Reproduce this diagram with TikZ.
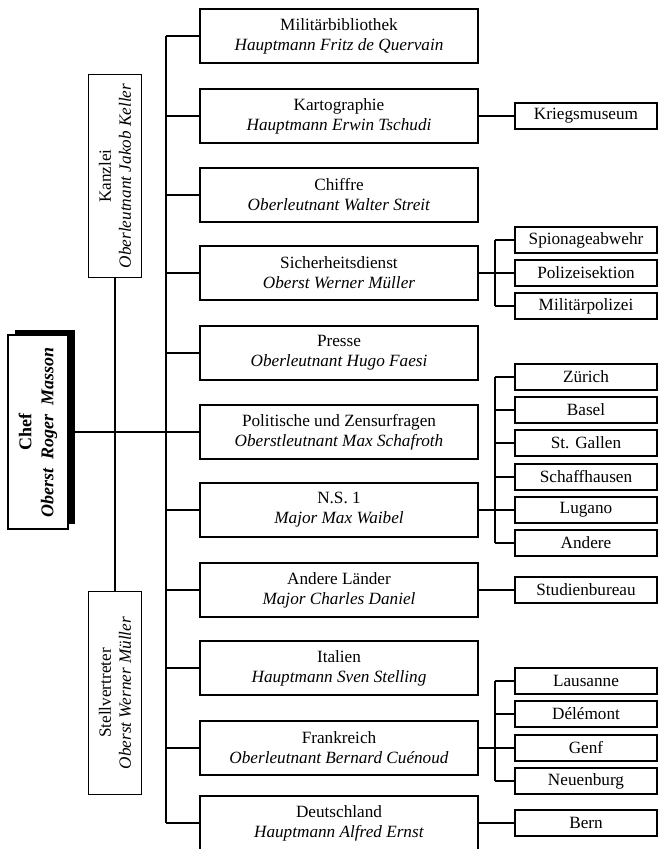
\documentclass[tikz,border=0pt]{standalone}
\usepackage{fontspec}
\setmainfont{Liberation Serif}
\tikzset{
  link/.style={line width=0.75pt},
  dept/.style={draw, line width=0.75pt, fill=white, minimum width=139pt, minimum height=27pt,
    inner sep=0pt, align=center, font=\fontsize{8.6}{10}\selectfont},
  office/.style={draw, line width=0.75pt, fill=white, minimum width=71pt, minimum height=13pt,
    inner sep=0pt, font=\fontsize{8.6}{10}\selectfont},
  staff/.style={draw, line width=0.75pt, fill=white, rotate=90, minimum width=101.5pt,
    minimum height=26.5pt, inner sep=0pt, align=center, font=\fontsize{8.6}{10}\selectfont},
}
\begin{document}
\begin{tikzpicture}[x=0.5pt, y=-0.5pt]
			%%%%% START %%%%%
			\useasboundingbox (0,0) rectangle (662,849);
			
			% chef and staff
			\fill[black] (15,330) rectangle (75,524);
			\node[draw, line width=0.75pt, fill=white, rotate=90, minimum width=97pt, minimum height=30pt,
			  inner sep=0pt, align=center, font=\bfseries\fontsize{9}{11}\selectfont] (chef) at (38,432)
			  {Chef\\\textit{Oberst\ \ Roger\ \ Masson}};
			\node[staff] (kanzlei) at (115,176) {Kanzlei\\\textit{Oberleutnant Jakob Keller}};
			\node[staff] (stell) at (115,693) {Stellvertreter\\\textit{Oberst Werner Müller}};
			
			% departments
			\node[dept] (mil) at (339,36) {Militärbibliothek\\\textit{Hauptmann Fritz de Quervain}};
			\node[dept] (karto) at (339,116) {Kartographie\\\textit{Hauptmann Erwin Tschudi}};
			\node[dept] (chiffre) at (339,195) {Chiffre\\\textit{Oberleutnant Walter Streit}};
			\node[dept] (sich) at (339,273) {Sicherheitsdienst\\\textit{Oberst Werner Müller}};
			\node[dept] (presse) at (339,353) {Presse\\\textit{Oberleutnant Hugo Faesi}};
			\node[dept] (pol) at (339,432) {Politische und Zensurfragen\\\textit{Oberstleutnant Max Schafroth}};
			\node[dept] (ns) at (339,510) {N.S. 1\\\textit{Major Max Waibel}};
			\node[dept] (andere) at (339,590) {Andere Länder\\\textit{Major Charles Daniel}};
			\node[dept] (ital) at (339,668) {Italien\\\textit{Hauptmann Sven Stelling}};
			\node[dept] (frank) at (339,748) {Frankreich\\\textit{Oberleutnant Bernard Cuénoud}};
			\node[dept] (deutsch) at (339,823) {Deutschland\\\textit{Hauptmann Alfred Ernst}};
			
			% offices
			\node[office] (kriegsmus) at (586,116) {Kriegsmuseum};
			\node[office] (spion) at (586,240) {Spionageabwehr};
			\node[office] (polsek) at (586,273) {Polizeisektion};
			\node[office] (milpol) at (586,306) {Militärpolizei};
			\node[office] (zuerich) at (586,377) {Zürich};
			\node[office] (basel) at (586,410) {Basel};
			\node[office] (stgallen) at (586,443) {St. Gallen};
			\node[office] (schaff) at (586,477) {Schaffhausen};
			\node[office] (lugano) at (586,510) {Lugano};
			\node[office] (anderes) at (586,543) {Andere};
			\node[office] (studien) at (586,590) {Studienbureau};
			\node[office] (lausanne) at (586,681) {Lausanne};
			\node[office] (delemont) at (586,714) {Délémont};
			\node[office] (genf) at (586,748) {Genf};
			\node[office] (neuenburg) at (586,781) {Neuenburg};
			\node[office] (bern) at (586,823) {Bern};
			
			% connectors
			\coordinate (spine) at (166,0);
			\coordinate (sub) at (495,0);
			\draw[link] (chef.south) -- (pol.west);
			\draw[link] (kanzlei.west) -- (stell.east);
			\draw[link] (spine |- mil.west) -- (spine |- deutsch.west);
			\foreach \d in {mil,karto,chiffre,sich,presse,pol,ns,andere,ital,frank,deutsch}
			  \draw[link] (\d.west) -- (spine |- \d.west);
			
			\draw[link] (karto.east) -- (kriegsmus.west);
			\draw[link] (andere.east) -- (studien.west);
			\draw[link] (deutsch.east) -- (bern.west);
			
			\draw[link] (sub |- spion.west) -- (sub |- milpol.west);
			\draw[link] (sub |- zuerich.west) -- (sub |- anderes.west);
			\draw[link] (sub |- lausanne.west) -- (sub |- neuenburg.west);
			\foreach \s in {spion,polsek,milpol,zuerich,basel,stgallen,schaff,lugano,anderes,lausanne,delemont,genf,neuenburg}
			  \draw[link] (\s.west) -- (sub |- \s.west);
			\draw[link] (sich.east) -- (sub |- sich.east);
			\draw[link] (ns.east) -- (sub |- ns.east);
			\draw[link] (frank.east) -- (sub |- frank.east);
			
			%%%%% END %%%%%
\end{tikzpicture}
\end{document}
